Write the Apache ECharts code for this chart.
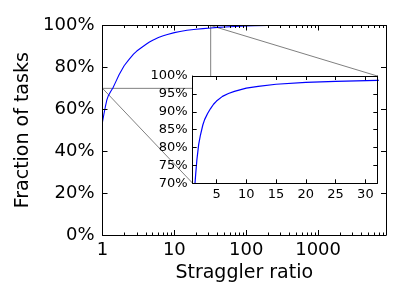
<!DOCTYPE html>
<html>
<head>
<meta charset="utf-8">
<script src="https://cdn.jsdelivr.net/npm/echarts@6/dist/echarts.min.js"></script>
<style>html,body{margin:0;padding:0;background:#fff}#c{width:400px;height:300px}</style>
</head>
<body>
<div id="c"></div>
<script>
// Straggler ratio (x) and cumulative fraction of tasks in % (y)
var ratios = [1, 1.05, 1.1, 1.15, 1.2, 1.3, 1.4, 1.5, 1.7, 2, 2.3, 2.7, 3, 3.5, 4, 4.5, 5, 6, 7, 8, 10, 12, 15, 20, 25, 32, 40, 50, 70, 100, 130, 200, 500, 1000, 3000, 8800];
var fractions = [54, 58, 61.5, 64.5, 66.3, 68.5, 70.3, 72.5, 76.5, 80.8, 83.5, 86.3, 87.8, 89.5, 90.9, 92.1, 93.0, 94.3, 95.1, 95.7, 96.6, 97.1, 97.7, 98.2, 98.5, 98.8, 99.1, 99.3, 99.55, 99.75, 99.9, 100, 100, 100, 100, 100];
var mainXMajor = [1, 10, 100, 1000];
var mainXMinor = [2,3,4,5,6,7,8,9,20,30,40,50,60,70,80,90,200,300,400,500,600,700,800,900,2000,3000,4000,5000,6000,7000,8000];
var insetXTicks = [5, 10, 15, 20, 25, 30];
var mainXRange = [1, 8800];
var insetXRange = [1, 32];
var insetYRange = [70, 100];

var FONT = 'DejaVu Sans';
var data = ratios.map(function (x, i) { return [x, fractions[i]]; });

function xAx(o) {
  var base = {
    splitLine: {show: false},
    axisLine: {show: false, lineStyle: {color: '#000', width: 1}},
    axisTick: {show: true, inside: true, length: 5, lineStyle: {color: '#000', width: 1}},
    axisLabel: {show: false, color: '#000', fontFamily: FONT}
  };
  for (var k in o) {
    if (typeof o[k] === 'object' && !Array.isArray(o[k]) && base[k]) {
      for (var j in o[k]) base[k][j] = o[k][j];
    } else base[k] = o[k];
  }
  return base;
}

var chart = echarts.init(document.getElementById('c'), null, {renderer: 'canvas'});
var option = {
  animation: false,
  backgroundColor: '#fff',
  textStyle: {fontFamily: FONT},
  grid: [
    {left: 102.5, right: 14, top: 25.5, bottom: 65, z: 0},
    {left: 192.7, right: 22.7, top: 76, bottom: 116.7, z: 10, show: true, backgroundColor: '#fff', borderWidth: 0}
  ],
  xAxis: [
    xAx({type: 'log', logBase: 10, gridIndex: 0, position: 'bottom', min: mainXRange[0], max: mainXRange[1], z: 3,
      axisLine: {show: true},
      axisTick: {customValues: mainXMajor},
      axisLabel: {show: true, customValues: mainXMajor, fontSize: 18, margin: 6,
        formatter: function (v) { return String(v); }},
      name: 'Straggler ratio', nameLocation: 'middle', nameGap: 28,
      nameTextStyle: {fontSize: 19, color: '#000', fontFamily: FONT}}),
    xAx({type: 'log', logBase: 10, gridIndex: 0, position: 'bottom', min: mainXRange[0], max: mainXRange[1], z: 3,
      axisTick: {customValues: mainXMinor, length: 2.5}}),
    xAx({type: 'log', logBase: 10, gridIndex: 0, position: 'top', min: mainXRange[0], max: mainXRange[1], z: 3,
      axisLine: {show: true},
      axisTick: {customValues: mainXMajor}}),
    xAx({type: 'log', logBase: 10, gridIndex: 0, position: 'top', min: mainXRange[0], max: mainXRange[1], z: 3,
      axisTick: {customValues: mainXMinor, length: 2.5}}),
    xAx({type: 'value', gridIndex: 1, position: 'bottom', min: insetXRange[0], max: insetXRange[1], z: 12,
      axisLine: {show: true},
      axisTick: {customValues: insetXTicks, length: 4},
      axisLabel: {show: true, customValues: insetXTicks, fontSize: 13, margin: 5}}),
    xAx({type: 'value', gridIndex: 1, position: 'top', min: insetXRange[0], max: insetXRange[1], z: 12,
      axisLine: {show: true},
      axisTick: {customValues: insetXTicks, length: 4}})
  ],
  yAxis: [
    xAx({type: 'value', gridIndex: 0, position: 'left', min: 0, max: 100, interval: 20, z: 3,
      axisLine: {show: true},
      axisLabel: {show: true, formatter: '{value}%', fontSize: 18, margin: 8, showMinLabel: true, showMaxLabel: true},
      name: 'Fraction of tasks', nameLocation: 'middle', nameGap: 70,
      nameTextStyle: {fontSize: 19, color: '#000', fontFamily: FONT}}),
    xAx({type: 'value', gridIndex: 0, position: 'right', min: 0, max: 100, interval: 20, z: 3,
      axisLine: {show: true}}),
    xAx({type: 'value', gridIndex: 1, position: 'left', min: insetYRange[0], max: insetYRange[1], interval: 5, z: 12,
      axisLine: {show: true},
      axisTick: {length: 4},
      axisLabel: {show: true, formatter: '{value}%', fontSize: 13, margin: 5, showMinLabel: true, showMaxLabel: true}}),
    xAx({type: 'value', gridIndex: 1, position: 'right', min: insetYRange[0], max: insetYRange[1], interval: 5, z: 12,
      axisLine: {show: true},
      axisTick: {length: 4}})
  ],
  series: [
    {type: 'line', xAxisIndex: 0, yAxisIndex: 0, data: data, showSymbol: false, symbol: 'none', z: 2,
      lineStyle: {color: '#0000ff', width: 1.1}, clip: true},
    {type: 'line', xAxisIndex: 4, yAxisIndex: 2, data: data, showSymbol: false, symbol: 'none', z: 11,
      lineStyle: {color: '#0000ff', width: 1.2}, clip: true}
  ]
};
chart.setOption(option);

// zoom-indicator lines (rectangle in main axes + connectors to inset corners)
var a = chart.convertToPixel({gridIndex: 0}, [insetXRange[0], insetYRange[0]]);
var b = chart.convertToPixel({gridIndex: 0}, [insetXRange[1], insetYRange[0]]);
var c = chart.convertToPixel({gridIndex: 0}, [insetXRange[1], insetYRange[1]]);
var ia = chart.convertToPixel({gridIndex: 1}, [insetXRange[0], insetYRange[0]]);
var ic = chart.convertToPixel({gridIndex: 1}, [insetXRange[1], insetYRange[1]]);
var gs = {stroke: '#808080', lineWidth: 1};
function seg(p, q) { return {type: 'line', z: 1, shape: {x1: p[0], y1: p[1], x2: q[0], y2: q[1]}, style: gs, silent: true}; }
chart.setOption({graphic: [seg(a, b), seg(b, c), seg(a, ia), seg(c, ic)]});
</script>
</body>
</html>
